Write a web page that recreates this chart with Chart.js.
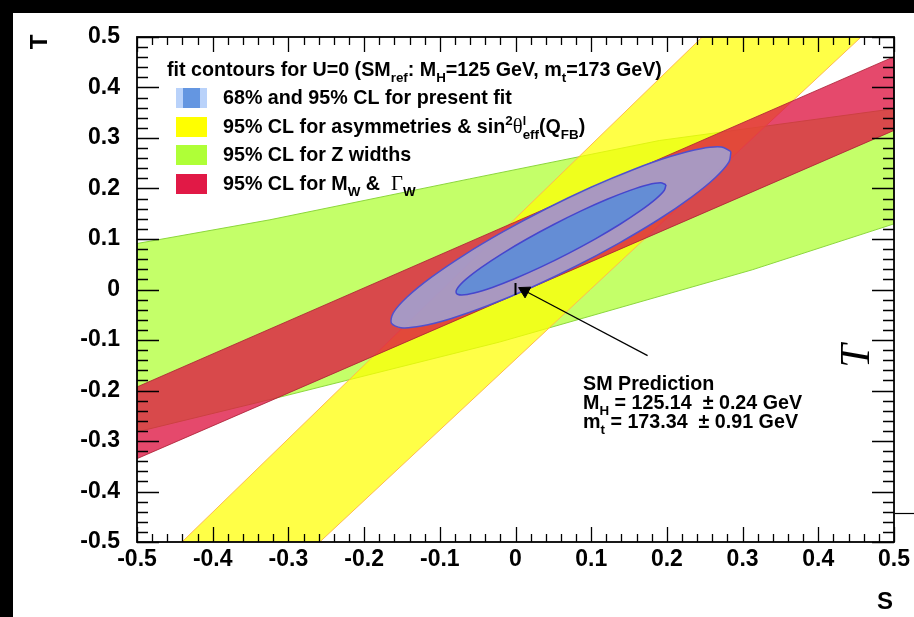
<!DOCTYPE html>
<html><head><meta charset="utf-8">
<script src="https://cdn.jsdelivr.net/npm/chart.js@4.4.1/dist/chart.umd.min.js"></script>
<style>html,body{margin:0;padding:0;background:#fff;}canvas{display:block;}</style>
</head><body>
<canvas id="c" width="914" height="617"></canvas>
<script>
// ---- data (S, T) ----
const xTickLabels = ['-0.5','-0.4','-0.3','-0.2','-0.1','0','0.1','0.2','0.3','0.4','0.5'];
const yTickLabels = ['-0.5','-0.4','-0.3','-0.2','-0.1','0','0.1','0.2','0.3','0.4','0.5'];

// 95% CL for Z widths (upper edge left->right, then lower edge right->left)
const zWidthsS = [-0.5, -0.3245, -0.0607, 0.19, 0.5, 0.5, 0.3127, -0.021, -0.311, -0.5, -0.5];
const zWidthsT = [0.091, 0.138, 0.219, 0.295, 0.358, 0.130, 0.039, -0.104, -0.213, -0.282, 0.091];

// 95% CL for asymmetries & sin2theta
const asymS = [-0.4406, 0.2467, 0.4565, -0.2586, -0.4406];
const asymT = [-0.5, 0.5, 0.5, -0.5, -0.5];

// 95% CL for MW & GammaW
const mwS = [-0.5, 0.5, 0.5, -0.5, -0.5];
const mwT = [-0.193, 0.461, 0.315, -0.335, -0.193];

// 95% CL contour of present fit (outline)
const fit95S = [0.2846, 0.2820, 0.2641, 0.2325, 0.1891, 0.1368, 0.0795, 0.0208, -0.0353, -0.0847, -0.1243, -0.1514,
                -0.1640, -0.1614, -0.1435, -0.1119, -0.0685, -0.0162, 0.0411, 0.0998, 0.1559, 0.2053, 0.2449, 0.2720, 0.2846];
const fit95T = [0.2731, 0.2525, 0.2217, 0.1829, 0.1386, 0.0920, 0.0460, 0.0040, -0.0313, -0.0573, -0.0725, -0.0757,
                -0.0667, -0.0461, -0.0153, 0.0235, 0.0678, 0.1145, 0.1604, 0.2024, 0.2377, 0.2637, 0.2789, 0.2821, 0.2731];

// 68% CL contour of present fit
const fit68S = [0.1988, 0.1966, 0.1851, 0.1651, 0.1380, 0.1056, 0.0701, 0.0339, -0.0005, -0.0307, -0.0547, -0.0710,
                -0.0782, -0.0760, -0.0645, -0.0445, -0.0174, 0.0150, 0.0505, 0.0867, 0.1211, 0.1513, 0.1753, 0.1916, 0.1988];
const fit68T = [0.2076, 0.1965, 0.1789, 0.1560, 0.1292, 0.1004, 0.0717, 0.0448, 0.0218, 0.0041, -0.0071, -0.0109,
                -0.0072, 0.0039, 0.0215, 0.0444, 0.0712, 0.1000, 0.1287, 0.1556, 0.1786, 0.1963, 0.2075, 0.2113, 0.2076];

// SM prediction and arrow
const smS = [0.0];
const smT = [0.001];
const arrowS = [0.1745, 0.0053];
const arrowT = [-0.131, 0.003];
const arrowHeadS = [0.0123];
const arrowHeadT = [-0.0027];

const legendHeader = [['fit contours for U=0 (SM',''],['ref','sub'],[': M',''],['H','sub'],['=125 GeV, m',''],['t','sub'],['=173 GeV)','']];
const legendEntries = [
  [['68% and 95% CL for present fit','']],
  [['95% CL for asymmetries & sin',''],['2','sup'],['θ','serif'],['l','supsub'],['eff','sub'],['(Q',''],['FB','sub'],[')','']],
  [['95% CL for Z widths','']],
  [['95% CL for M',''],['W','sub'],[' &  ',''],['Γ','serif'],['W','sub']]
];
const annotationLines = [
  [['SM Prediction','']],
  [['M',''],['H','sub'],[' = 125.14  ± 0.24 GeV','']],
  [['m',''],['t','sub'],[' = 173.34  ± 0.91 GeV','']]
];

function pts(xs, ys){ return xs.map((x,i)=>({x:x, y:ys[i]})); }

const FONT = '"Liberation Sans", Arial, Helvetica, sans-serif';
const SERIF = '"Liberation Serif", "DejaVu Serif", serif';

function drawRich(ctx, x, y, segs, size){
  ctx.textAlign = 'left'; ctx.textBaseline = 'alphabetic';
  for (const [t, s] of segs){
    let fs = size, dy = 0, font = 'bold ' + size + 'px ' + FONT;
    if (s === 'sub'){ fs = size*0.68; dy = size*0.32; font = 'bold ' + fs + 'px ' + FONT; }
    else if (s === 'sup'){ fs = size*0.68; dy = -size*0.42; font = 'bold ' + fs + 'px ' + FONT; }
    else if (s === 'supsub'){ fs = size*0.62; dy = -size*0.40; font = 'bold ' + fs + 'px ' + FONT; }
    else if (s === 'serif'){ fs = size*1.05; font = fs + 'px ' + SERIF; }
    ctx.font = font;
    ctx.fillText(t, x, y + dy);
    if (s !== 'supsub') x += ctx.measureText(t).width;
  }
  return x;
}

const decor = {
  id: 'decor',
  beforeDraw(chart){
    const ctx = chart.ctx;
    ctx.save();
    ctx.fillStyle = '#fff'; ctx.fillRect(0,0,chart.width,chart.height);
    ctx.fillStyle = '#000';
    ctx.fillRect(0,0,chart.width,13);
    ctx.fillRect(0,0,13,chart.height);
    ctx.restore();
  },
  afterDatasetsDraw(chart){
    const ctx = chart.ctx, a = chart.chartArea;
    const xs = chart.scales.x, ys = chart.scales.y;
    ctx.save();
    ctx.strokeStyle = '#000';
    ctx.lineWidth = 1.3;
    ctx.beginPath();
    for (let i = 0; i <= 50; i++){
      const v = -0.5 + i*0.02;
      const major = i % 5 === 0;
      const px = Math.round(xs.getPixelForValue(v)) + 0.5;
      const lx = major ? 15 : 8;
      ctx.moveTo(px, a.bottom); ctx.lineTo(px, a.bottom - lx);
      ctx.moveTo(px, a.top); ctx.lineTo(px, a.top + lx);
      const py = Math.round(ys.getPixelForValue(v)) + 0.5;
      const ly = major ? 22 : 11;
      ctx.moveTo(a.left, py); ctx.lineTo(a.left + ly, py);
      ctx.moveTo(a.right, py); ctx.lineTo(a.right - ly, py);
    }
    ctx.stroke();
    ctx.lineWidth = 1.8;
    ctx.strokeRect(a.left, a.top, a.right - a.left, a.bottom - a.top);

    // legend
    const FS = 19.7;
    ctx.fillStyle = '#000';
    drawRich(ctx, 167, 76, legendHeader, FS);
    const sw = [null, 'rgb(255,255,0)', 'rgb(175,255,55)', 'rgb(225,25,70)'];
    const base = [104, 133, 161, 190];
    for (let i = 0; i < 4; i++){
      const cy = base[i] - 6;
      if (i === 0){
        ctx.fillStyle = 'rgb(185,210,250)'; ctx.fillRect(176, cy-10, 31, 20);
        ctx.fillStyle = 'rgb(100,150,225)'; ctx.fillRect(183, cy-10, 17, 20);
      } else {
        ctx.fillStyle = sw[i]; ctx.fillRect(176, cy-10, 31, 20);
      }
      ctx.fillStyle = '#000';
      drawRich(ctx, 223, base[i], legendEntries[i], FS);
    }
    // annotation
    const ab = [390, 409, 428];
    for (let i = 0; i < 3; i++) drawRich(ctx, 583, ab[i], annotationLines[i], FS);

    // axis titles
    ctx.font = 'bold 24px ' + FONT;
    ctx.textAlign = 'center'; ctx.textBaseline = 'middle';
    ctx.fillText('S', 885, 602);
    ctx.save(); ctx.translate(40, 42); ctx.rotate(-Math.PI/2); ctx.fillText('T', 0, 0); ctx.restore();
    // stray italic T at right
    ctx.save(); ctx.translate(858, 356); ctx.rotate(-Math.PI/2);
    ctx.font = 'italic 42px ' + SERIF;
    ctx.fillText('T', 0, 0); ctx.restore();
    ctx.lineWidth = 1.2;
    ctx.beginPath(); ctx.moveTo(895, 513.5); ctx.lineTo(914, 513.5); ctx.stroke();
    ctx.restore();
  }
};

const tickFont = {family: FONT, size: 23, weight: 'bold'};

new Chart(document.getElementById('c'), {
  type: 'line',
  data: {
    datasets: [
      {label:'Z widths', data: pts(zWidthsS, zWidthsT), fill:'shape', backgroundColor:'rgba(173,255,47,0.72)', borderColor:'rgba(140,215,60,1)', borderWidth:1, pointRadius:0, tension:0, order:10},
      {label:'asym', data: pts(asymS, asymT), fill:'shape', backgroundColor:'rgba(255,255,0,0.72)', borderColor:'rgb(255,185,80)', borderWidth:1, pointRadius:0, tension:0, order:9},
      {label:'MW', data: pts(mwS, mwT), fill:'shape', backgroundColor:'rgba(222,22,66,0.78)', borderColor:'rgba(170,30,50,0.8)', borderWidth:1, pointRadius:0, tension:0, order:8},
      {label:'fit95', data: pts(fit95S, fit95T), fill:'shape', backgroundColor:'rgba(156,170,222,0.82)', borderColor:'rgb(80,80,205)', borderWidth:1.5, pointRadius:0, tension:0.3, order:7},
      {label:'fit68', data: pts(fit68S, fit68T), fill:'shape', backgroundColor:'rgba(98,140,214,0.97)', borderColor:'rgb(70,70,205)', borderWidth:1.5, pointRadius:0, tension:0.3, order:6},
      {label:'arrow', data: pts(arrowS, arrowT), fill:false, borderColor:'#000', borderWidth:1.2, pointRadius:0, tension:0, order:4},
      {label:'arrowhead', data: pts(arrowHeadS, arrowHeadT), showLine:false, pointStyle:'triangle', pointRotation:-62, pointRadius:7, backgroundColor:'#000', borderColor:'#000', borderWidth:1, order:3},
      {label:'SM', data: pts(smS, smT), showLine:false, pointStyle:'line', pointRotation:90, pointRadius:6, borderColor:'#000', borderWidth:2, order:2}
    ]
  },
  options: {
    responsive:false, animation:false, events:[],
    layout:{padding:{top:37, right:19, left:0, bottom:0}},
    plugins:{legend:{display:false}, tooltip:{enabled:false}},
    scales:{
      x:{type:'linear', min:-0.5, max:0.5, position:'bottom',
         grid:{display:false, drawTicks:false}, border:{display:false},
         ticks:{stepSize:0.1, padding:4, color:'#000', font:tickFont, maxRotation:0, autoSkip:false,
                callback:(v,i)=>xTickLabels[i]},
         afterFit:(s)=>{s.height=75;}},
      y:{type:'linear', min:-0.5, max:0.5, position:'left',
         grid:{display:false, drawTicks:false}, border:{display:false},
         ticks:{stepSize:0.1, padding:17, color:'#000', font:tickFont, autoSkip:false,
                callback:(v,i)=>yTickLabels[i]},
         afterFit:(s)=>{s.width=137;}}
    }
  },
  plugins:[decor]
});
</script>
</body></html>
